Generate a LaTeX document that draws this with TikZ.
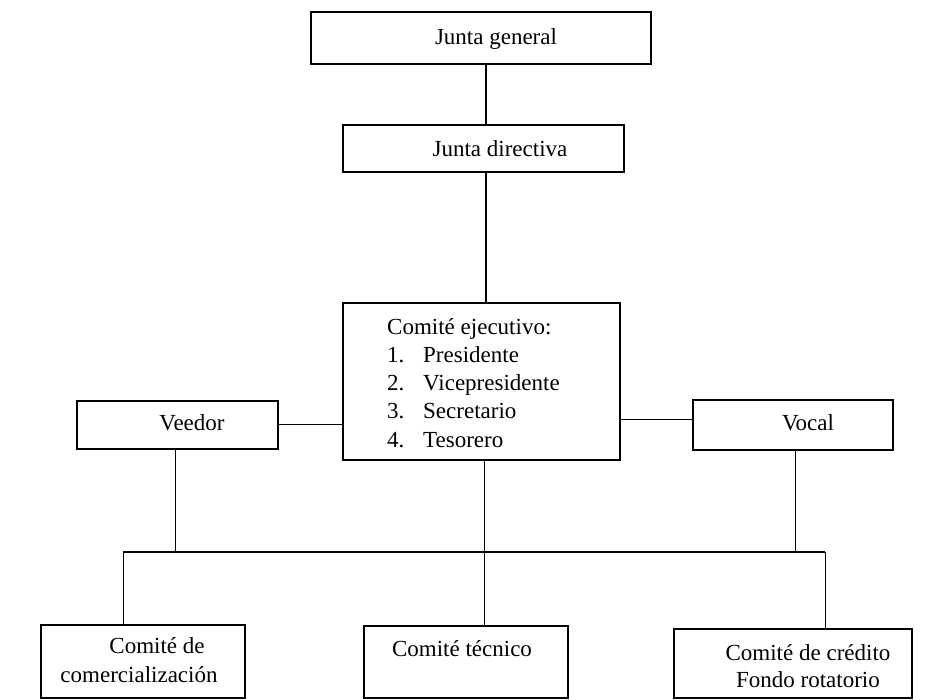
\documentclass[tikz,border=0pt]{standalone}
\usepackage{fontspec}
\setmainfont{Liberation Serif}
\begin{document}
\begin{tikzpicture}[x=1pt,y=-1pt,
  box/.style={draw=black, line width=2.2pt, rectangle, inner sep=0pt},
  txt/.style={inner sep=0pt, anchor=base, font=\fontsize{23}{28}\selectfont},
  txtl/.style={inner sep=0pt, anchor=base west, font=\fontsize{23}{28}\selectfont},
  thick line/.style={line width=2.2pt},
  thin line/.style={line width=1pt}]
\useasboundingbox (0,0) rectangle (948,700);
% boxes
\node[box, minimum width=340pt, minimum height=52pt] (jg) at (481,38) {};
\node[box, minimum width=281pt, minimum height=47pt] (jd) at (483.5,148.5) {};
\node[box, minimum width=277pt, minimum height=157pt] (exec) at (481.5,381.5) {};
\node[box, minimum width=201pt, minimum height=48pt] (veedor) at (177.5,425) {};
\node[box, minimum width=200pt, minimum height=50pt] (vocal) at (793,425) {};
\node[box, minimum width=204pt, minimum height=73pt] (comer) at (143,661.5) {};
\node[box, minimum width=204pt, minimum height=72pt] (tecnico) at (466,662) {};
\node[box, minimum width=238pt, minimum height=69pt] (credito) at (793,663.5) {};
% texts
\node[txt] (tjg) at (496,45) {Junta general};
\node[txt] (tjd) at (500,157) {Junta directiva};
\node[txtl] (te0) at (387,335) {Comité ejecutivo:};
\node[txtl] (te1) at (387,363) {1.};
\node[txtl] (te1b) at (423,363) {Presidente};
\node[txtl] (te2) at (387,391) {2.};
\node[txtl] (te2b) at (423,391) {Vicepresidente};
\node[txtl] (te3) at (387,419) {3.};
\node[txtl] (te3b) at (423,419) {Secretario};
\node[txtl] (te4) at (387,447) {4.};
\node[txtl] (te4b) at (423,447) {Tesorero};
\node[txt] (tve) at (192,431) {Veedor};
\node[txt] (tvo) at (808,431) {Vocal};
\node[txt] (tc1) at (157,653) {Comité de};
\node[txt] (tc2) at (139,682) {comercialización};
\node[txt] (ttc) at (462,656) {Comité técnico};
\node[txt] (tcr1) at (808,660) {Comité de crédito};
\node[txt] (tcr2) at (808,687) {Fondo rotatorio};
% connectors
\coordinate (busL) at (123,552);
\coordinate (busR) at (825,552);
\coordinate (execS) at (484,460);
\coordinate (topX) at (486,100);
\coordinate (vocW) at ([yshift=5pt]vocal.west);
\coordinate (veeS) at ([xshift=-2.5pt]veedor.south);
\coordinate (vocS) at ([xshift=2pt]vocal.south);
\draw[thick line] (jg.south -| topX) -- (jd.north -| topX);
\draw[thick line] (jd.south -| topX) -- (exec.north -| topX);
\draw[thin line] (veedor.east) -- (exec.west |- veedor.east);
\draw[thin line] (vocW) -- (exec.east |- vocW);
\draw[thick line] (busL) -- (busR);
\draw[thin line] (veeS) -- (veeS |- busL);
\draw[thin line] (vocS) -- (vocS |- busR);
\draw[thin line] (execS) -- (execS |- tecnico.north);
\draw[thin line] (busL) -- (busL |- comer.north);
\draw[thin line] (busR) -- (busR |- credito.north);
\end{tikzpicture}
\end{document}
